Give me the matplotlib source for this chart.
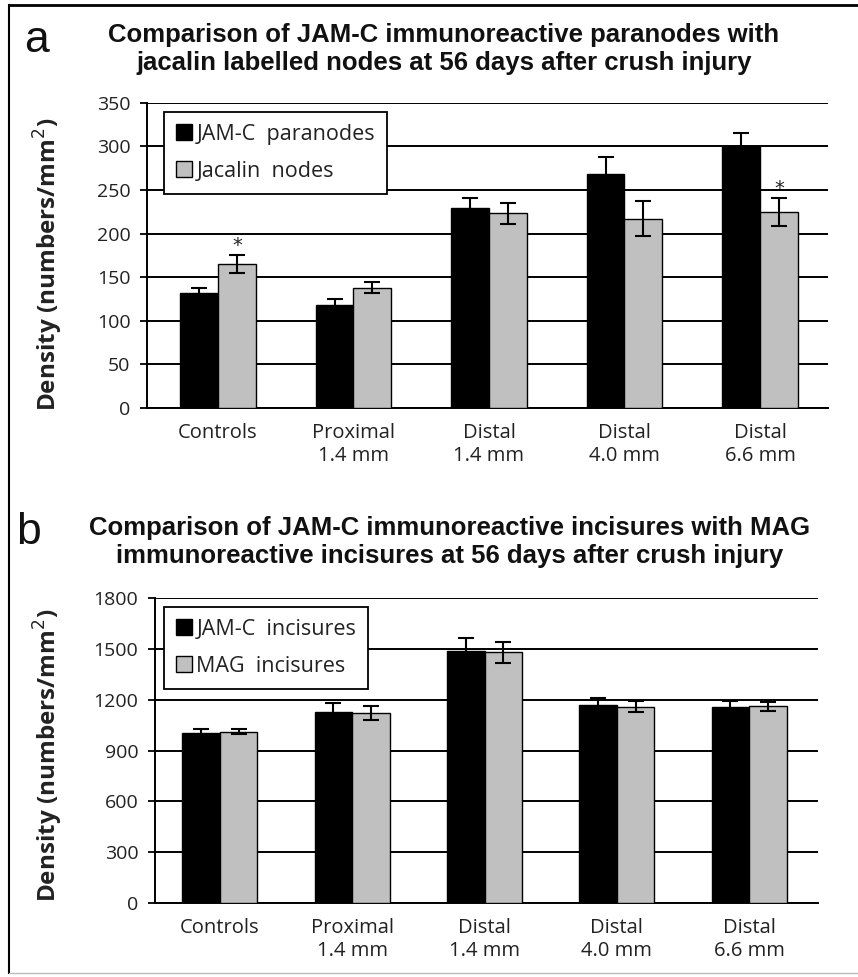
import numpy as np
import matplotlib
matplotlib.use('Agg')
import matplotlib.pyplot as plt
from matplotlib import font_manager

# Data
groups = ['Controls', 'Proximal\n1.4 mm', 'Distal\n1.4 mm', 'Distal\n4.0 mm', 'Distal\n6.6 mm']

jamc_paranodes = [132, 118, 229, 268, 300]
jamc_paranodes_err = [6, 7, 12, 20, 15]
jacalin_nodes = [165, 138, 223, 217, 225]
jacalin_nodes_err = [10, 6, 12, 20, 16]
stars_a = [0, 4]  # groups with * over jacalin bar

jamc_incisures = [1003, 1127, 1490, 1170, 1160]
jamc_incisures_err = [26, 52, 78, 38, 35]
mag_incisures = [1012, 1122, 1480, 1160, 1163]
mag_incisures_err = [13, 40, 62, 33, 27]

yticks_a = [0, 50, 100, 150, 200, 250, 300, 350]
yticks_b = [0, 300, 600, 900, 1200, 1500, 1800]

# Fonts
names = {f.name for f in font_manager.fontManager.ttflist}
narrow = 'Liberation Sans Narrow' if 'Liberation Sans Narrow' in names else 'Liberation Sans'
body = 'Open Sans'

W, H = 858, 977
fig = plt.figure(figsize=(W / 100, H / 100), dpi=100)

GRAY = '#c0c0c0'
TXT = '#222222'


def draw_panel(rect, v1, e1, v2, e2, yticks, xlim, bw, labels, legend_xy, stars=()):
    ax = fig.add_axes(rect)
    x = np.arange(len(groups))
    ax.bar(x - bw / 2, v1, bw, color='black', edgecolor='black', lw=1, zorder=3,
           label=labels[0])
    ax.bar(x + bw / 2, v2, bw, color=GRAY, edgecolor='black', lw=1, zorder=3,
           label=labels[1])
    ax.errorbar(x - bw / 2, v1, yerr=e1, fmt='none', ecolor='black', elinewidth=1.5,
                capsize=5.5, capthick=1.5, zorder=4)
    ax.errorbar(x + bw / 2, v2, yerr=e2, fmt='none', ecolor='black', elinewidth=1.5,
                capsize=5.5, capthick=1.5, zorder=4)
    for i in stars:
        ax.text(i + bw / 2, v2[i] + e2[i], '*', ha='center',
                va='bottom', fontsize=14, family='DejaVu Sans', color=TXT, zorder=5)

    ax.set_xlim(*xlim)
    ax.set_ylim(0, yticks[-1])
    ax.set_yticks(yticks)
    ax.set_xticks(x)
    ax.set_xticklabels(groups, family=body, fontsize=14.5, color=TXT, linespacing=1.2)
    ax.set_yticklabels([str(t) for t in yticks], family=body, fontsize=14, color=TXT)
    ax.tick_params(axis='x', length=0, pad=11)
    ax.tick_params(axis='y', length=5, width=1.3, pad=7, direction='out')
    ax.yaxis.grid(True, color='black', lw=1.4)
    ax.set_axisbelow(True)
    for s in ['top', 'right']:
        ax.spines[s].set_visible(False)
    for s in ['left', 'bottom']:
        ax.spines[s].set_linewidth(1.4)
    ax.set_ylabel('Density (numbers/mm$^{2}$)', family=body, fontweight='bold',
                  fontsize=17.5, color=TXT)

    leg = ax.legend(loc='upper left', bbox_to_anchor=legend_xy,
                    bbox_transform=fig.transFigure, frameon=True, fancybox=False,
                    edgecolor='black', framealpha=1, borderpad=0.55, borderaxespad=0,
                    labelspacing=0.75, handlelength=0.75, handleheight=0.75,
                    handletextpad=0.2, prop={'family': body, 'size': 15.5})
    leg.get_frame().set_linewidth(1.3)
    for t in leg.get_texts():
        t.set_color(TXT)
    return ax


# Panel a
ax_a = draw_panel([147 / W, 1 - 408 / H, (828 - 147) / W, (408 - 102.7) / H],
                  jamc_paranodes, jamc_paranodes_err, jacalin_nodes, jacalin_nodes_err,
                  yticks_a, (-0.524, 4.502), 0.28,
                  ['JAM-C  paranodes', 'Jacalin  nodes'],
                  (164 / W, 1 - 111.7 / H), stars=stars_a)
ax_a.yaxis.set_label_coords(-0.12, 0.47)

# Panel b
ax_b = draw_panel([155 / W, 1 - 902.7 / H, (818 - 155) / W, (902.7 - 598.4) / H],
                  jamc_incisures, jamc_incisures_err, mag_incisures, mag_incisures_err,
                  yticks_b, (-0.49, 4.52), 0.284,
                  ['JAM-C  incisures', 'MAG  incisures'],
                  (164 / W, 1 - 606.7 / H))
ax_b.yaxis.set_label_coords(-0.135, 0.485)

# Titles and panel letters
fig.text(444 / W, 1 - 49 / H,
         'Comparison of JAM-C immunoreactive paranodes with\n'
         'jacalin labelled nodes at 56 days after crush injury',
         ha='center', va='center', family=narrow, fontweight='bold', fontsize=18.5,
         linespacing=1.2, color='#111111')
fig.text(450 / W, 1 - 542 / H,
         'Comparison of JAM-C immunoreactive incisures with MAG\n'
         'immunoreactive incisures at 56 days after crush injury',
         ha='center', va='center', family='Liberation Sans', fontweight='bold',
         fontsize=18.5, linespacing=1.2, color='#111111')
fig.text(24 / W, 1 - 40 / H, 'a', ha='left', va='center', family='Liberation Sans',
         fontsize=32, color='#111111')
fig.text(16 / W, 1 - 532 / H, 'b', ha='left', va='center', family='Liberation Sans',
         fontsize=32, color='#111111')

# Figure frame
fig.add_artist(plt.Line2D([9 / W, 9 / W], [1 - 973 / H, 1 - 5 / H], color='black', lw=1.5))
fig.add_artist(plt.Line2D([9 / W, 1], [1 - 5 / H, 1 - 5 / H], color='black', lw=2))
fig.add_artist(plt.Line2D([9 / W, 1], [1 - 973 / H, 1 - 973 / H], color='#bbbbbb', lw=1))

fig.savefig('out.png', dpi=100)
